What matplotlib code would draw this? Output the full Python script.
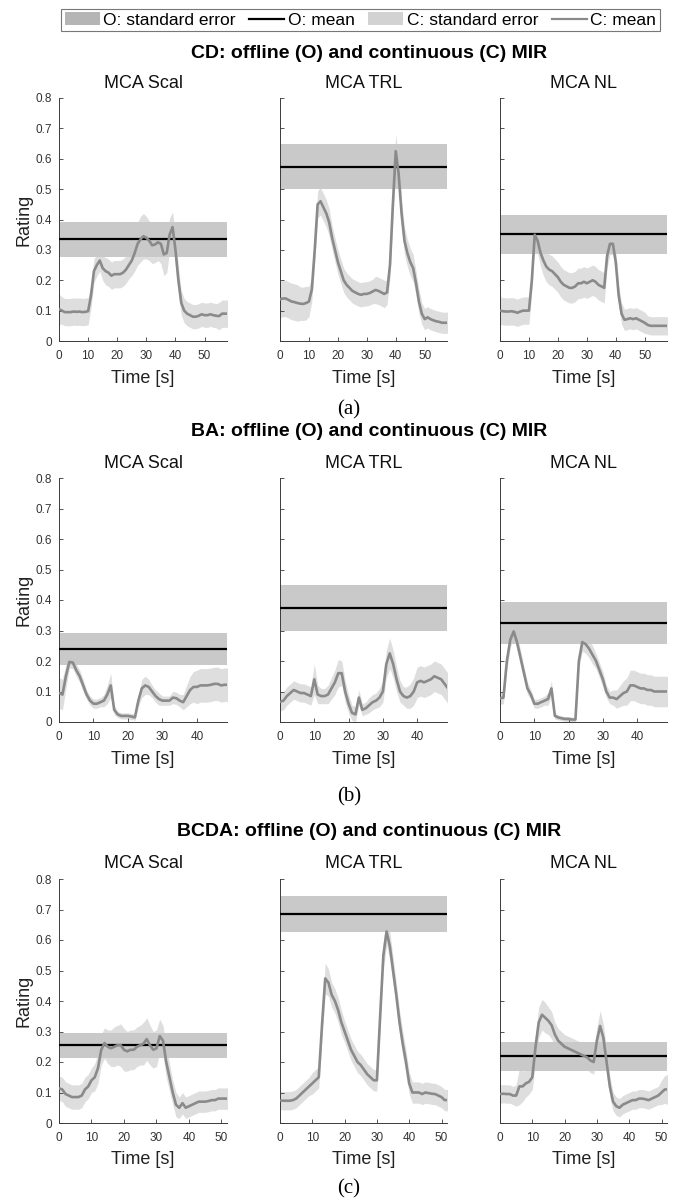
import numpy as np
import matplotlib
matplotlib.use("Agg")
import matplotlib.pyplot as plt
from matplotlib.patches import Patch
from matplotlib.lines import Line2D

plt.rcParams['font.family'] = ['Liberation Sans', 'DejaVu Sans']

blocks = ["CD", "BA", "BCDA"]
panel_names = ["MCA Scal", "MCA TRL", "MCA NL"]
block_tags = ["(a)", "(b)", "(c)"]
durations = [57.7, 48.7, 51.7]

# offline (O) mean and standard error per block, order Scal, TRL, NL
cd_o_mean = [0.335, 0.574, 0.352]
cd_o_se = [0.057, 0.074, 0.064]
ba_o_mean = [0.240, 0.374, 0.325]
ba_o_se = [0.053, 0.076, 0.068]
bcda_o_mean = [0.255, 0.686, 0.219]
bcda_o_se = [0.041, 0.059, 0.047]

# CD, t = 0..58 s
cd_scal_mean = [0.105, 0.10, 0.095, 0.095, 0.095, 0.097, 0.096, 0.097, 0.095, 0.096, 0.098,
                0.15, 0.23, 0.25, 0.265, 0.24, 0.23, 0.225, 0.215, 0.22, 0.22,
                0.22, 0.225, 0.235, 0.25, 0.265, 0.29, 0.32, 0.335, 0.345, 0.34,
                0.33, 0.315, 0.318, 0.325, 0.32, 0.285, 0.29, 0.35, 0.375, 0.30,
                0.2, 0.125, 0.1, 0.09, 0.085, 0.08, 0.08, 0.083, 0.088, 0.085,
                0.085, 0.088, 0.085, 0.083, 0.082, 0.09, 0.09, 0.09]
cd_scal_se = [0.05, 0.045, 0.045, 0.045, 0.045, 0.045, 0.045, 0.045, 0.045, 0.045, 0.045,
              0.04, 0.04, 0.035, 0.035, 0.04, 0.045, 0.045, 0.045, 0.045, 0.045,
              0.045, 0.045, 0.045, 0.045, 0.05, 0.06, 0.07, 0.075, 0.075, 0.07,
              0.065, 0.06, 0.06, 0.06, 0.065, 0.07, 0.065, 0.055, 0.05, 0.05,
              0.045, 0.04, 0.04, 0.04, 0.04, 0.04, 0.04, 0.04, 0.04, 0.04,
              0.04, 0.04, 0.04, 0.04, 0.045, 0.045, 0.045, 0.045]
cd_trl_mean = [0.137, 0.14, 0.14, 0.135, 0.13, 0.128, 0.125, 0.123, 0.122, 0.125, 0.13,
               0.17, 0.30, 0.45, 0.46, 0.44, 0.42, 0.39, 0.34, 0.30, 0.26,
               0.23, 0.20, 0.185, 0.175, 0.165, 0.16, 0.155, 0.152, 0.155, 0.155,
               0.158, 0.163, 0.168, 0.165, 0.16, 0.155, 0.16, 0.25, 0.45, 0.625,
               0.55, 0.42, 0.33, 0.29, 0.26, 0.24, 0.19, 0.13, 0.09, 0.072,
               0.078, 0.072, 0.068, 0.065, 0.063, 0.06, 0.06, 0.06]
cd_trl_se = [0.06, 0.06, 0.06, 0.06, 0.06, 0.06, 0.06, 0.055, 0.055, 0.055, 0.05,
             0.04, 0.04, 0.045, 0.045, 0.045, 0.045, 0.045, 0.04, 0.04, 0.04,
             0.04, 0.04, 0.04, 0.04, 0.04, 0.04, 0.04, 0.04, 0.04, 0.04,
             0.04, 0.04, 0.045, 0.045, 0.045, 0.045, 0.04, 0.04, 0.05, 0.055,
             0.05, 0.045, 0.045, 0.045, 0.045, 0.045, 0.04, 0.04, 0.035, 0.035,
             0.035, 0.035, 0.035, 0.035, 0.035, 0.035, 0.035, 0.035]
cd_nl_mean = [0.10, 0.098, 0.097, 0.097, 0.098, 0.096, 0.093, 0.097, 0.1, 0.1, 0.1,
              0.2, 0.35, 0.33, 0.29, 0.265, 0.245, 0.235, 0.23, 0.22, 0.21,
              0.195, 0.185, 0.18, 0.175, 0.175, 0.18, 0.19, 0.19, 0.195, 0.19,
              0.195, 0.2, 0.195, 0.185, 0.18, 0.175, 0.28, 0.32, 0.32, 0.26,
              0.15, 0.09, 0.07, 0.072, 0.075, 0.072, 0.075, 0.07, 0.065, 0.06,
              0.053, 0.05, 0.05, 0.05, 0.05, 0.05, 0.05, 0.05]
cd_nl_se = [0.045, 0.045, 0.045, 0.045, 0.045, 0.045, 0.045, 0.045, 0.045, 0.045, 0.045,
            0.035, 0.035, 0.04, 0.045, 0.05, 0.05, 0.05, 0.05, 0.05, 0.05,
            0.05, 0.05, 0.05, 0.05, 0.05, 0.05, 0.05, 0.05, 0.05, 0.05,
            0.05, 0.05, 0.05, 0.05, 0.05, 0.05, 0.04, 0.035, 0.035, 0.035,
            0.035, 0.035, 0.035, 0.035, 0.035, 0.035, 0.035, 0.035, 0.035, 0.035,
            0.03, 0.03, 0.03, 0.03, 0.03, 0.03, 0.03, 0.03]

# BA, t = 0..49 s
ba_scal_mean = [0.095, 0.09, 0.15, 0.197, 0.195, 0.17, 0.15, 0.12, 0.09, 0.07,
                0.06, 0.06, 0.065, 0.07, 0.09, 0.12, 0.04, 0.025, 0.02, 0.02,
                0.02, 0.018, 0.015, 0.07, 0.11, 0.12, 0.115, 0.1, 0.085, 0.075,
                0.07, 0.07, 0.07, 0.08, 0.078, 0.07, 0.065, 0.085, 0.105, 0.115,
                0.115, 0.12, 0.12, 0.12, 0.122, 0.125, 0.125, 0.12, 0.122, 0.122]
ba_scal_se = [0.05, 0.05, 0.04, 0.02, 0.02, 0.02, 0.02, 0.02, 0.015, 0.015,
              0.015, 0.015, 0.015, 0.02, 0.03, 0.04, 0.015, 0.01, 0.01, 0.01,
              0.01, 0.01, 0.01, 0.02, 0.03, 0.03, 0.025, 0.02, 0.02, 0.02,
              0.015, 0.015, 0.015, 0.02, 0.02, 0.02, 0.025, 0.035, 0.045, 0.05,
              0.055, 0.055, 0.055, 0.055, 0.055, 0.055, 0.055, 0.055, 0.055, 0.055]
ba_trl_mean = [0.066, 0.07, 0.085, 0.095, 0.105, 0.1, 0.095, 0.095, 0.09, 0.085,
               0.14, 0.09, 0.085, 0.085, 0.09, 0.11, 0.13, 0.16, 0.16, 0.1,
               0.06, 0.03, 0.025, 0.08, 0.04, 0.045, 0.055, 0.065, 0.07, 0.08,
               0.1, 0.19, 0.225, 0.19, 0.14, 0.1, 0.085, 0.08, 0.085, 0.1,
               0.13, 0.135, 0.13, 0.135, 0.14, 0.15, 0.145, 0.14, 0.125, 0.11]
ba_trl_se = [0.03, 0.03, 0.03, 0.03, 0.03, 0.03, 0.03, 0.03, 0.03, 0.03,
             0.05, 0.03, 0.025, 0.025, 0.03, 0.035, 0.04, 0.045, 0.04, 0.035,
             0.03, 0.025, 0.025, 0.025, 0.02, 0.02, 0.025, 0.025, 0.025, 0.03,
             0.035, 0.045, 0.05, 0.045, 0.04, 0.035, 0.03, 0.035, 0.04, 0.045,
             0.05, 0.05, 0.05, 0.05, 0.05, 0.05, 0.05, 0.05, 0.05, 0.05]
ba_nl_mean = [0.078, 0.08, 0.2, 0.27, 0.297, 0.26, 0.21, 0.16, 0.11, 0.09,
              0.06, 0.06, 0.065, 0.07, 0.075, 0.11, 0.02, 0.015, 0.012, 0.01,
              0.01, 0.008, 0.008, 0.2, 0.262, 0.255, 0.24, 0.22, 0.2, 0.17,
              0.14, 0.1, 0.08, 0.08, 0.075, 0.085, 0.095, 0.1, 0.12, 0.12,
              0.115, 0.11, 0.11, 0.105, 0.105, 0.1, 0.1, 0.1, 0.1, 0.1]
ba_nl_se = [0.02, 0.02, 0.03, 0.025, 0.02, 0.025, 0.025, 0.02, 0.02, 0.015,
            0.015, 0.015, 0.015, 0.015, 0.02, 0.025, 0.01, 0.008, 0.008, 0.008,
            0.008, 0.008, 0.008, 0.02, 0.03, 0.03, 0.03, 0.03, 0.025, 0.025,
            0.025, 0.02, 0.02, 0.025, 0.03, 0.035, 0.04, 0.045, 0.05, 0.05,
            0.05, 0.05, 0.05, 0.05, 0.05, 0.05, 0.05, 0.05, 0.05, 0.05]

# BCDA, t = 0..52 s
bcda_scal_mean = [0.114, 0.11, 0.095, 0.09, 0.085, 0.085, 0.085, 0.09, 0.11, 0.12,
                  0.14, 0.15, 0.18, 0.24, 0.262, 0.25, 0.245, 0.25, 0.255, 0.255,
                  0.24, 0.235, 0.24, 0.24, 0.25, 0.255, 0.26, 0.275, 0.255, 0.24,
                  0.245, 0.285, 0.27, 0.2, 0.15, 0.1, 0.06, 0.05, 0.065, 0.05,
                  0.055, 0.06, 0.065, 0.07, 0.07, 0.07, 0.072, 0.075, 0.075, 0.08,
                  0.08, 0.08, 0.08]
bcda_scal_se = [0.04, 0.04, 0.04, 0.04, 0.04, 0.04, 0.04, 0.04, 0.04, 0.04,
                0.04, 0.045, 0.05, 0.05, 0.05, 0.055, 0.06, 0.065, 0.065, 0.07,
                0.07, 0.065, 0.065, 0.065, 0.065, 0.065, 0.07, 0.07, 0.065, 0.06,
                0.06, 0.055, 0.05, 0.05, 0.045, 0.04, 0.04, 0.035, 0.035, 0.035,
                0.035, 0.035, 0.035, 0.035, 0.035, 0.035, 0.035, 0.035, 0.035, 0.035,
                0.035, 0.035, 0.035]
bcda_trl_mean = [0.074, 0.073, 0.073, 0.073, 0.075, 0.08, 0.09, 0.1, 0.11, 0.12,
                 0.13, 0.14, 0.15, 0.32, 0.474, 0.46, 0.42, 0.4, 0.37, 0.33,
                 0.3, 0.27, 0.24, 0.22, 0.2, 0.19, 0.175, 0.16, 0.15, 0.14,
                 0.14, 0.35, 0.55, 0.628, 0.58, 0.5, 0.42, 0.33, 0.26, 0.2,
                 0.13, 0.1, 0.1, 0.1, 0.095, 0.1, 0.098, 0.096, 0.095, 0.09,
                 0.085, 0.075, 0.075]
bcda_trl_se = [0.03, 0.03, 0.03, 0.03, 0.03, 0.03, 0.03, 0.03, 0.03, 0.03,
               0.035, 0.035, 0.035, 0.04, 0.05, 0.045, 0.04, 0.04, 0.04, 0.04,
               0.035, 0.035, 0.035, 0.035, 0.035, 0.035, 0.035, 0.035, 0.035, 0.035,
               0.035, 0.04, 0.045, 0.045, 0.045, 0.045, 0.04, 0.04, 0.04, 0.04,
               0.035, 0.035, 0.035, 0.035, 0.035, 0.035, 0.035, 0.035, 0.035, 0.035,
               0.035, 0.035, 0.035]
bcda_nl_mean = [0.095, 0.096, 0.095, 0.095, 0.09, 0.09, 0.12, 0.12, 0.13, 0.135,
                0.15, 0.25, 0.33, 0.355, 0.345, 0.335, 0.32, 0.29, 0.27, 0.26,
                0.25, 0.245, 0.24, 0.235, 0.23, 0.225, 0.22, 0.215, 0.205, 0.2,
                0.27, 0.318, 0.28, 0.2, 0.12, 0.07, 0.055, 0.05, 0.06, 0.065,
                0.07, 0.075, 0.075, 0.08, 0.08, 0.078, 0.075, 0.08, 0.085, 0.09,
                0.1, 0.11, 0.11]
bcda_nl_se = [0.03, 0.03, 0.03, 0.03, 0.03, 0.035, 0.06, 0.05, 0.045, 0.04,
              0.04, 0.045, 0.05, 0.05, 0.05, 0.045, 0.045, 0.04, 0.04, 0.04,
              0.04, 0.04, 0.04, 0.04, 0.04, 0.04, 0.04, 0.04, 0.04, 0.04,
              0.045, 0.05, 0.045, 0.04, 0.035, 0.03, 0.03, 0.03, 0.03, 0.03,
              0.03, 0.03, 0.03, 0.03, 0.03, 0.03, 0.03, 0.03, 0.03, 0.03,
              0.04, 0.045, 0.05]

c_means = [[cd_scal_mean, cd_trl_mean, cd_nl_mean],
           [ba_scal_mean, ba_trl_mean, ba_nl_mean],
           [bcda_scal_mean, bcda_trl_mean, bcda_nl_mean]]
c_ses = [[cd_scal_se, cd_trl_se, cd_nl_se],
         [ba_scal_se, ba_trl_se, ba_nl_se],
         [bcda_scal_se, bcda_trl_se, bcda_nl_se]]
o_means = [cd_o_mean, ba_o_mean, bcda_o_mean]
o_ses = [cd_o_se, ba_o_se, bcda_o_se]

# ---- styling ----
O_SE_COL = '#c9c9c9'
O_SE_LEG = '#b5b5b5'
C_SE_COL = '#dedede'
C_SE_LEG = '#d2d2d2'
C_MEAN_COL = '#8a8a8a'
AX_COL = '#3a3a3a'

W, H = 678, 1199
fig = plt.figure(figsize=(W / 100, H / 100), dpi=100)
PT = 0.72  # points per pixel at 100 dpi

col_x = [(59, 227), (280, 447), (500, 667)]
row_y = [(98, 341), (478, 722), (879, 1123)]
title_y = [53, 432, 832]
tag_y = [410, 797, 1189]

for b in range(3):
    top, bot = row_y[b]
    fig.text(369 / W, 1 - title_y[b] / H,
             blocks[b] + ": offline (O) and continuous (C) MIR",
             ha='center', va='center', fontsize=14, fontweight='bold')
    fig.text(349 / W, 1 - tag_y[b] / H, block_tags[b], ha='center', va='center',
             fontsize=15, family=['Liberation Serif', 'DejaVu Serif'])
    for p in range(3):
        x0, x1 = col_x[p]
        ax = fig.add_axes([x0 / W, 1 - bot / H, (x1 - x0) / W, (bot - top) / H])
        m = np.array(c_means[b][p])
        s = np.array(c_ses[b][p])
        t = np.arange(len(m))
        ax.fill_between(t, m - s, m + s, color=C_SE_COL, lw=0, zorder=1)
        ax.axhspan(o_means[b][p] - o_ses[b][p], o_means[b][p] + o_ses[b][p],
                   color=O_SE_COL, lw=0, zorder=2)
        ax.axhline(o_means[b][p], color='black', lw=1.6, zorder=3)
        ax.plot(t, m, color=C_MEAN_COL, lw=1.9, zorder=4)

        ax.set_xlim(0, durations[b])
        ax.set_ylim(0, 0.8)
        ax.set_xticks(np.arange(0, durations[b], 10))
        ax.set_yticks(np.arange(0, 0.81, 0.1))
        ax.yaxis.set_major_formatter(plt.FuncFormatter(lambda v, _: '%g' % round(v, 1)))
        ax.tick_params(direction='in', length=3, width=0.6, colors=AX_COL,
                       labelsize=8.5, labelcolor='#333333')
        ax.tick_params(axis='x', pad=6.5)
        ax.tick_params(axis='y', pad=5)
        for sp in ['top', 'right']:
            ax.spines[sp].set_visible(False)
        for sp in ['left', 'bottom']:
            ax.spines[sp].set_color(AX_COL)
            ax.spines[sp].set_linewidth(0.7)
        if p > 0:
            ax.set_yticklabels([])
        else:
            ax.annotate("Rating", xy=(0, 0.5), xycoords='axes fraction',
                        xytext=(-35 * PT, 0), textcoords='offset points',
                        rotation=90, ha='center', va='center', fontsize=13,
                        color='#222222')
        ax.annotate(panel_names[p], xy=(0.5, 1), xycoords='axes fraction',
                    xytext=(0, 15 * PT), textcoords='offset points',
                    ha='center', va='center', fontsize=13, color='#111111')
        ax.annotate("Time [s]", xy=(0.5, 0), xycoords='axes fraction',
                    xytext=(0, -37 * PT), textcoords='offset points',
                    ha='center', va='center', fontsize=13, color='#222222')

handles = [Patch(facecolor=O_SE_LEG, edgecolor='none'),
           Line2D([0], [0], color='black', lw=1.6),
           Patch(facecolor=C_SE_LEG, edgecolor='none'),
           Line2D([0], [0], color=C_MEAN_COL, lw=1.6)]
labels = ["O: standard error", "O: mean", "C: standard error", "C: mean"]
leg = fig.legend(handles, labels, loc='center', bbox_to_anchor=(360.5 / W, 1 - 20 / H),
                 ncol=4, frameon=True, fancybox=False, fontsize=12.5,
                 handlelength=2.0, handleheight=0.8, columnspacing=0.8,
                 handletextpad=0.2, borderpad=0.2, borderaxespad=0)
leg.get_frame().set_edgecolor('#555555')
leg.get_frame().set_linewidth(0.8)

fig.savefig("out.png", dpi=100)
